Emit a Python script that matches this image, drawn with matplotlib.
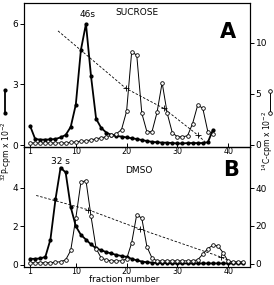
import numpy as np
import matplotlib
matplotlib.use("Agg")
import matplotlib.pyplot as plt
from matplotlib.lines import Line2D

# ---- panel A : sucrose ----
fracA = list(range(1, 38))
p32A = [0.95, 0.3, 0.27, 0.27, 0.28, 0.3, 0.38, 0.5, 0.9, 2.0, 4.7, 6.0, 3.4, 1.3, 0.85,
        0.62, 0.5, 0.45, 0.42, 0.38, 0.34, 0.3, 0.25, 0.2, 0.16, 0.14, 0.12, 0.12, 0.1, 0.08,
        0.08, 0.1, 0.1, 0.1, 0.1, 0.14, 0.75]
c14A = [0.2, 0.2, 0.2, 0.2, 0.2, 0.2, 0.2, 0.2, 0.25, 0.3, 0.35, 0.4, 0.5, 0.6, 0.7,
        0.8, 0.95, 1.1, 1.5, 3.3, 9.1, 8.8, 3.1, 1.3, 1.3, 3.2, 6.1, 3.1, 1.2, 0.8,
        0.8, 0.9, 2.1, 3.9, 3.6, 1.3, 1.1]
gradA_x = [6.5, 19.9, 27.3, 34.0, 35.5]
gradA_y = [5.65, 2.8, 1.82, 0.5, 0.15]

# ---- panel B : DMSO ----
fracB = list(range(1, 44))
p32B = [0.3, 0.3, 0.32, 0.4, 1.3, 3.4, 5.05, 4.8, 3.0, 2.0, 1.55, 1.3, 1.05, 0.85, 0.75,
        0.65, 0.58, 0.5, 0.45, 0.4, 0.3, 0.22, 0.16, 0.12, 0.1, 0.08, 0.08, 0.08, 0.06, 0.06,
        0.06, 0.06, 0.06, 0.06, 0.06, 0.06, 0.06, 0.06, 0.06, 0.06, 0.06, 0.06, 0.06]
c14B = [0.5, 0.5, 0.5, 0.5, 0.5, 0.8, 1.0, 2.0, 7.0, 24, 43, 44, 25, 8, 3,
        2, 1.5, 1.5, 1.5, 2.5, 11, 26, 24, 9, 3, 1.5, 1.5, 1.5, 1.5, 1.5,
        1.5, 1.5, 1.5, 2.0, 5.0, 8.0, 9.7, 9.4, 5.8, 1.2, 1.0, 1.0, 1.0]
gradB_x = [2.2, 12.5, 22.7, 38.5, 40.6]
gradB_y = [3.6, 2.85, 1.84, 0.4, 0.14]

xticks = [1, 10, 20, 30, 40]

W, H = 274, 285
fig = plt.figure(figsize=(W / 100, H / 100), dpi=100)
plt.rcParams['font.size'] = 6.5

L, R = 24 / W, 250 / W
axA = fig.add_axes([L, 1 - 146.5 / H, R - L, (146.5 - 3) / H])
axB = fig.add_axes([L, 1 - 266.5 / H, R - L, (266.5 - 146.5) / H])
axA.set_zorder(3)
axA.patch.set_visible(False)
axA2 = axA.twinx()
axB2 = axB.twinx()


def draw(ax, ax2, frac, p32, c14, gx, gy):
    ax.plot(frac, p32, color='k', lw=1.3, marker='o', ms=2.0, zorder=4)
    ax.plot(gx, gy, color='k', lw=0.6, ls=(0, (3, 2)), marker='+', ms=4, mew=0.6,
            markevery=list(range(1, len(gx) - 1)))
    ax2.plot(frac, c14, color='k', lw=0.7, marker='o', ms=2.6, mfc='white', mew=0.6)
    ax.set_xlim(-0.2, 44.3)
    ax.set_xticks(xticks)
    ax.tick_params(axis='x', direction='in', length=3, width=0.7, pad=0.5, labelsize=5.8)
    ax.tick_params(axis='y', direction='out', length=3, width=0.7, pad=1)
    ax2.tick_params(axis='y', direction='out', length=3, width=0.7, pad=1)
    for a in (ax, ax2):
        for s in a.spines.values():
            s.set_linewidth(0.8)


draw(axA, axA2, fracA, p32A, c14A, gradA_x, gradA_y)
axA.set_ylim(-0.07, 7.03)
axA.set_yticks([0, 3, 6])
axA2.set_ylim(-0.15, 13.9)
axA2.set_yticks([0, 5, 10])

draw(axB, axB2, fracB, p32B, c14B, gradB_x, gradB_y)
axB.set_ylim(-0.1, 6.15)
axB.set_yticks([0, 2, 4])
axB2.set_ylim(-1.5, 62)
axB2.set_yticks([0, 20, 40])

# annotations
axA.text(12.3, 6.25, '46s', ha='center', va='bottom', fontsize=6.5)
axA.text(22, 6.55, 'SUCROSE', ha='center', va='center', fontsize=6.5)
axA.text(40.0, 5.6, 'A', ha='center', va='center', fontsize=15, fontweight='bold')
axB.text(7.0, 5.15, '32 s', ha='center', va='bottom', fontsize=6.5)
axB.text(22.5, 4.9, 'DMSO', ha='center', va='center', fontsize=6.5)
axB.text(40.5, 4.9, 'B', ha='center', va='center', fontsize=15, fontweight='bold')

# axis titles
fig.text(124.5 / W, 1 - 284.5 / H, 'fraction number', ha='center', va='bottom', fontsize=6.3)
fig.text(6.5 / W, 1 - 151 / H, r'$^{32}$P-cpm x 10$^{-2}$', rotation=90,
         ha='center', va='center', fontsize=5.5)
fig.text(268 / W, 1 - 141 / H, r'$^{14}$C-cpm x 10$^{-2}$', rotation=90,
         ha='center', va='center', fontsize=5.5)
fig.add_artist(Line2D([5 / W, 5 / W], [1 - 90 / H, 1 - 113 / H], color='k', lw=1.3,
                      marker='o', ms=2.0))
fig.add_artist(Line2D([270 / W, 270 / W], [1 - 91 / H, 1 - 113 / H], color='k', lw=0.7,
                      marker='o', ms=2.6, mfc='white', mew=0.6))

fig.savefig('out.png', dpi=100)
